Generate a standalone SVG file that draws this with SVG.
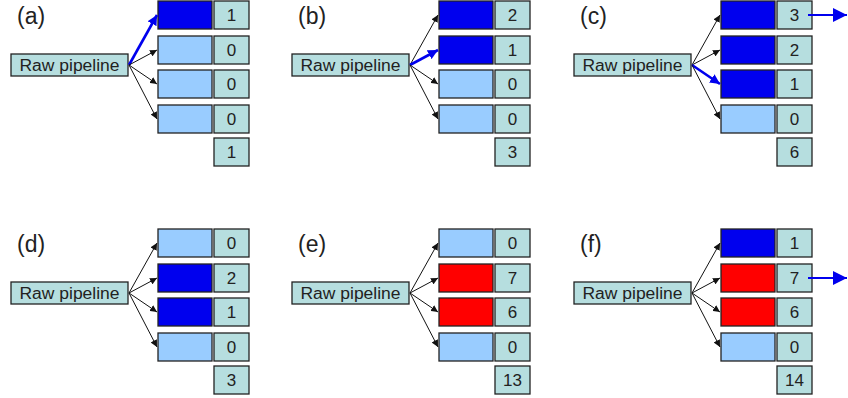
<svg xmlns="http://www.w3.org/2000/svg" width="848" height="398" viewBox="0 0 848 398">
<defs>
<style>
.box{stroke:#222;stroke-width:1.3}
.teal{fill:#B6DEDF}
.dk{fill:#0000EE}
.lt{fill:#99CCFF}
.rd{fill:#FF0000}
.num{font-family:"Liberation Sans",Arial,sans-serif;font-size:17px;fill:#222;text-anchor:middle}
.raw{font-family:"Liberation Sans",Arial,sans-serif;font-size:16px;fill:#222;text-anchor:middle}
.lbl{font-family:"Liberation Sans",Arial,sans-serif;font-size:23px;fill:#222}
.ar{fill:none;stroke:#111;stroke-width:1;marker-end:url(#hk)}
.ab{fill:none;stroke:#0000EE;stroke-width:2.6;marker-end:url(#hb)}
.ao{fill:none;stroke:#0000EE;stroke-width:2;marker-end:url(#ho)}
</style>
<marker id="hk" markerUnits="userSpaceOnUse" markerWidth="8" markerHeight="7" refX="7" refY="3.5" orient="auto"><path d="M0,0 L7,3.5 L0,7 Z" fill="#111"/></marker>
<marker id="hb" markerUnits="userSpaceOnUse" markerWidth="11" markerHeight="10" refX="10" refY="5" orient="auto"><path d="M0,0 L10,5 L0,10 Z" fill="#0000EE"/></marker>
<marker id="ho" markerUnits="userSpaceOnUse" markerWidth="15" markerHeight="14" refX="14" refY="7" orient="auto"><path d="M0,0 L14,7 L0,14 Z" fill="#0000EE"/></marker>
</defs>
<rect width="848" height="398" fill="#fff"/>

<!-- Panel a -->
<g id="panel-a">
<text class="lbl" x="17" y="24">(a)</text>
<g id="a-raw"><rect class="box teal" x="11" y="54" width="117" height="22"/><text class="raw" x="69.5" y="71" textLength="100" lengthAdjust="spacingAndGlyphs">Raw pipeline</text></g>
<g id="a-bar0"><rect class="box dk" x="158" y="1" width="54" height="28"/></g>
<g id="a-bar1"><rect class="box lt" x="158" y="36" width="54" height="28"/></g>
<g id="a-bar2"><rect class="box lt" x="158" y="70" width="54" height="28"/></g>
<g id="a-bar3"><rect class="box lt" x="158" y="105" width="54" height="28"/></g>
<g id="a-n0"><rect class="box teal" x="214" y="1" width="35" height="28"/><text class="num" x="231.5" y="21">1</text></g>
<g id="a-n1"><rect class="box teal" x="214" y="36" width="35" height="28"/><text class="num" x="231.5" y="56">0</text></g>
<g id="a-n2"><rect class="box teal" x="214" y="70" width="35" height="28"/><text class="num" x="231.5" y="90">0</text></g>
<g id="a-n3"><rect class="box teal" x="214" y="105" width="35" height="28"/><text class="num" x="231.5" y="125">0</text></g>
<g id="a-tot"><rect class="box teal" x="214" y="138" width="35" height="28"/><text class="num" x="231.5" y="158">1</text></g>
<g id="a-conn">
<path class="ab" d="M129,65 L157,15"/>
<path class="ar" d="M129,65 L157,50"/>
<path class="ar" d="M129,65 L157,84"/>
<path class="ar" d="M129,65 L157,119"/>
</g>
</g>

<!-- Panel b -->
<g id="panel-b" transform="translate(281,0)">
<text class="lbl" x="17" y="24">(b)</text>
<g id="b-raw"><rect class="box teal" x="11" y="54" width="117" height="22"/><text class="raw" x="69.5" y="71" textLength="100" lengthAdjust="spacingAndGlyphs">Raw pipeline</text></g>
<g id="b-bar0"><rect class="box dk" x="158" y="1" width="54" height="28"/></g>
<g id="b-bar1"><rect class="box dk" x="158" y="36" width="54" height="28"/></g>
<g id="b-bar2"><rect class="box lt" x="158" y="70" width="54" height="28"/></g>
<g id="b-bar3"><rect class="box lt" x="158" y="105" width="54" height="28"/></g>
<g id="b-n0"><rect class="box teal" x="214" y="1" width="35" height="28"/><text class="num" x="231.5" y="21">2</text></g>
<g id="b-n1"><rect class="box teal" x="214" y="36" width="35" height="28"/><text class="num" x="231.5" y="56">1</text></g>
<g id="b-n2"><rect class="box teal" x="214" y="70" width="35" height="28"/><text class="num" x="231.5" y="90">0</text></g>
<g id="b-n3"><rect class="box teal" x="214" y="105" width="35" height="28"/><text class="num" x="231.5" y="125">0</text></g>
<g id="b-tot"><rect class="box teal" x="214" y="138" width="35" height="28"/><text class="num" x="231.5" y="158">3</text></g>
<g id="b-conn">
<path class="ar" d="M129,65 L157,15"/>
<path class="ab" d="M129,65 L157,50"/>
<path class="ar" d="M129,65 L157,84"/>
<path class="ar" d="M129,65 L157,119"/>
</g>
</g>

<!-- Panel c -->
<g id="panel-c" transform="translate(563,0)">
<text class="lbl" x="17" y="24">(c)</text>
<g id="c-raw"><rect class="box teal" x="11" y="54" width="117" height="22"/><text class="raw" x="69.5" y="71" textLength="100" lengthAdjust="spacingAndGlyphs">Raw pipeline</text></g>
<g id="c-bar0"><rect class="box dk" x="158" y="1" width="54" height="28"/></g>
<g id="c-bar1"><rect class="box dk" x="158" y="36" width="54" height="28"/></g>
<g id="c-bar2"><rect class="box dk" x="158" y="70" width="54" height="28"/></g>
<g id="c-bar3"><rect class="box lt" x="158" y="105" width="54" height="28"/></g>
<g id="c-n0"><rect class="box teal" x="214" y="1" width="35" height="28"/><text class="num" x="231.5" y="21">3</text></g>
<g id="c-n1"><rect class="box teal" x="214" y="36" width="35" height="28"/><text class="num" x="231.5" y="56">2</text></g>
<g id="c-n2"><rect class="box teal" x="214" y="70" width="35" height="28"/><text class="num" x="231.5" y="90">1</text></g>
<g id="c-n3"><rect class="box teal" x="214" y="105" width="35" height="28"/><text class="num" x="231.5" y="125">0</text></g>
<g id="c-tot"><rect class="box teal" x="214" y="138" width="35" height="28"/><text class="num" x="231.5" y="158">6</text></g>
<g id="c-conn">
<path class="ar" d="M129,65 L157,15"/>
<path class="ar" d="M129,65 L157,50"/>
<path class="ab" d="M129,65 L157,84"/>
<path class="ar" d="M129,65 L157,119"/>
<path class="ao" d="M245,15 L284,15"/>
</g>
</g>

<!-- Panel d -->
<g id="panel-d" transform="translate(0,228)">
<text class="lbl" x="17" y="24">(d)</text>
<g id="d-raw"><rect class="box teal" x="11" y="54" width="117" height="22"/><text class="raw" x="69.5" y="71" textLength="100" lengthAdjust="spacingAndGlyphs">Raw pipeline</text></g>
<g id="d-bar0"><rect class="box lt" x="158" y="1" width="54" height="28"/></g>
<g id="d-bar1"><rect class="box dk" x="158" y="36" width="54" height="28"/></g>
<g id="d-bar2"><rect class="box dk" x="158" y="70" width="54" height="28"/></g>
<g id="d-bar3"><rect class="box lt" x="158" y="105" width="54" height="28"/></g>
<g id="d-n0"><rect class="box teal" x="214" y="1" width="35" height="28"/><text class="num" x="231.5" y="21">0</text></g>
<g id="d-n1"><rect class="box teal" x="214" y="36" width="35" height="28"/><text class="num" x="231.5" y="56">2</text></g>
<g id="d-n2"><rect class="box teal" x="214" y="70" width="35" height="28"/><text class="num" x="231.5" y="90">1</text></g>
<g id="d-n3"><rect class="box teal" x="214" y="105" width="35" height="28"/><text class="num" x="231.5" y="125">0</text></g>
<g id="d-tot"><rect class="box teal" x="214" y="138" width="35" height="28"/><text class="num" x="231.5" y="158">3</text></g>
<g id="d-conn">
<path class="ar" d="M129,65 L157,15"/>
<path class="ar" d="M129,65 L157,50"/>
<path class="ar" d="M129,65 L157,84"/>
<path class="ar" d="M129,65 L157,119"/>
</g>
</g>

<!-- Panel e -->
<g id="panel-e" transform="translate(281,228)">
<text class="lbl" x="17" y="24">(e)</text>
<g id="e-raw"><rect class="box teal" x="11" y="54" width="117" height="22"/><text class="raw" x="69.5" y="71" textLength="100" lengthAdjust="spacingAndGlyphs">Raw pipeline</text></g>
<g id="e-bar0"><rect class="box lt" x="158" y="1" width="54" height="28"/></g>
<g id="e-bar1"><rect class="box rd" x="158" y="36" width="54" height="28"/></g>
<g id="e-bar2"><rect class="box rd" x="158" y="70" width="54" height="28"/></g>
<g id="e-bar3"><rect class="box lt" x="158" y="105" width="54" height="28"/></g>
<g id="e-n0"><rect class="box teal" x="214" y="1" width="35" height="28"/><text class="num" x="231.5" y="21">0</text></g>
<g id="e-n1"><rect class="box teal" x="214" y="36" width="35" height="28"/><text class="num" x="231.5" y="56">7</text></g>
<g id="e-n2"><rect class="box teal" x="214" y="70" width="35" height="28"/><text class="num" x="231.5" y="90">6</text></g>
<g id="e-n3"><rect class="box teal" x="214" y="105" width="35" height="28"/><text class="num" x="231.5" y="125">0</text></g>
<g id="e-tot"><rect class="box teal" x="214" y="138" width="35" height="28"/><text class="num" x="231.5" y="158">13</text></g>
<g id="e-conn">
<path class="ar" d="M129,65 L157,15"/>
<path class="ar" d="M129,65 L157,50"/>
<path class="ar" d="M129,65 L157,84"/>
<path class="ar" d="M129,65 L157,119"/>
</g>
</g>

<!-- Panel f -->
<g id="panel-f" transform="translate(563,228)">
<text class="lbl" x="17" y="24">(f)</text>
<g id="f-raw"><rect class="box teal" x="11" y="54" width="117" height="22"/><text class="raw" x="69.5" y="71" textLength="100" lengthAdjust="spacingAndGlyphs">Raw pipeline</text></g>
<g id="f-bar0"><rect class="box dk" x="158" y="1" width="54" height="28"/></g>
<g id="f-bar1"><rect class="box rd" x="158" y="36" width="54" height="28"/></g>
<g id="f-bar2"><rect class="box rd" x="158" y="70" width="54" height="28"/></g>
<g id="f-bar3"><rect class="box lt" x="158" y="105" width="54" height="28"/></g>
<g id="f-n0"><rect class="box teal" x="214" y="1" width="35" height="28"/><text class="num" x="231.5" y="21">1</text></g>
<g id="f-n1"><rect class="box teal" x="214" y="36" width="35" height="28"/><text class="num" x="231.5" y="56">7</text></g>
<g id="f-n2"><rect class="box teal" x="214" y="70" width="35" height="28"/><text class="num" x="231.5" y="90">6</text></g>
<g id="f-n3"><rect class="box teal" x="214" y="105" width="35" height="28"/><text class="num" x="231.5" y="125">0</text></g>
<g id="f-tot"><rect class="box teal" x="214" y="138" width="35" height="28"/><text class="num" x="231.5" y="158">14</text></g>
<g id="f-conn">
<path class="ar" d="M129,65 L157,15"/>
<path class="ar" d="M129,65 L157,50"/>
<path class="ar" d="M129,65 L157,84"/>
<path class="ar" d="M129,65 L157,119"/>
<path class="ao" d="M245,50 L284,50"/>
</g>
</g>
</svg>
